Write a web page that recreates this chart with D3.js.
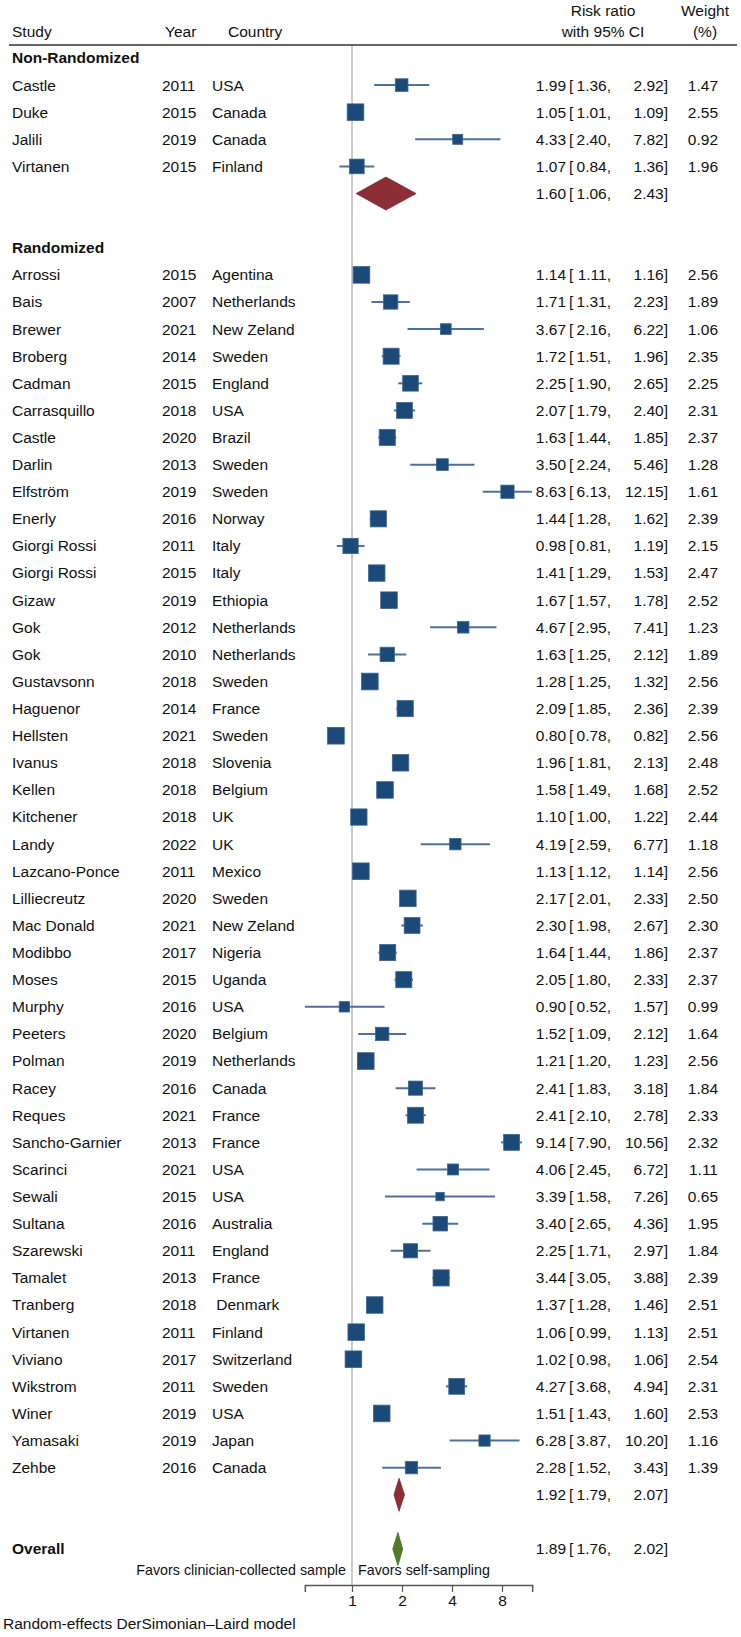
<!DOCTYPE html>
<html>
<head>
<meta charset="utf-8">
<script src="https://cdn.jsdelivr.net/npm/d3@7"></script>
<style>
  body { margin: 0; background: #fff; }
  svg text { font-family: "Liberation Sans", Arial, sans-serif; font-size: 15.5px; fill: #111; }
</style>
</head>
<body>
<svg width="741" height="1637"></svg>
<script>
// forest plot: self-sampling vs clinician-collected, risk ratio on log2 scale

const groups = ["Non-Randomized", "Randomized"];
const groupSize = [4, 45];

const studies = ["Castle", "Duke", "Jalili", "Virtanen",
  "Arrossi", "Bais", "Brewer", "Broberg", "Cadman", "Carrasquillo", "Castle", "Darlin", "Elfström",
  "Enerly", "Giorgi Rossi", "Giorgi Rossi", "Gizaw", "Gok", "Gok", "Gustavsonn", "Haguenor", "Hellsten",
  "Ivanus", "Kellen", "Kitchener", "Landy", "Lazcano-Ponce", "Lilliecreutz", "Mac Donald", "Modibbo",
  "Moses", "Murphy", "Peeters", "Polman", "Racey", "Reques", "Sancho-Garnier", "Scarinci", "Sewali",
  "Sultana", "Szarewski", "Tamalet", "Tranberg", "Virtanen", "Viviano", "Wikstrom", "Winer",
  "Yamasaki", "Zehbe"];
const years = [2011, 2015, 2019, 2015,
  2015, 2007, 2021, 2014, 2015, 2018, 2020, 2013, 2019, 2016, 2011, 2015, 2019, 2012, 2010, 2018,
  2014, 2021, 2018, 2018, 2018, 2022, 2011, 2020, 2021, 2017, 2015, 2016, 2020, 2019, 2016, 2021,
  2013, 2021, 2015, 2016, 2011, 2013, 2018, 2011, 2017, 2011, 2019, 2019, 2016];
const countries = ["USA", "Canada", "Canada", "Finland",
  "Agentina", "Netherlands", "New Zeland", "Sweden", "England", "USA", "Brazil", "Sweden", "Sweden",
  "Norway", "Italy", "Italy", "Ethiopia", "Netherlands", "Netherlands", "Sweden", "France", "Sweden",
  "Slovenia", "Belgium", "UK", "UK", "Mexico", "Sweden", "New Zeland", "Nigeria", "Uganda", "USA",
  "Belgium", "Netherlands", "Canada", "France", "France", "USA", "USA", "Australia", "England",
  "France", " Denmark", "Finland", "Switzerland", "Sweden", "USA", "Japan", "Canada"];
const rr = [1.99, 1.05, 4.33, 1.07,
  1.14, 1.71, 3.67, 1.72, 2.25, 2.07, 1.63, 3.50, 8.63, 1.44, 0.98, 1.41, 1.67, 4.67, 1.63, 1.28,
  2.09, 0.80, 1.96, 1.58, 1.10, 4.19, 1.13, 2.17, 2.30, 1.64, 2.05, 0.90, 1.52, 1.21, 2.41, 2.41,
  9.14, 4.06, 3.39, 3.40, 2.25, 3.44, 1.37, 1.06, 1.02, 4.27, 1.51, 6.28, 2.28];
const lower = [1.36, 1.01, 2.40, 0.84,
  1.11, 1.31, 2.16, 1.51, 1.90, 1.79, 1.44, 2.24, 6.13, 1.28, 0.81, 1.29, 1.57, 2.95, 1.25, 1.25,
  1.85, 0.78, 1.81, 1.49, 1.00, 2.59, 1.12, 2.01, 1.98, 1.44, 1.80, 0.52, 1.09, 1.20, 1.83, 2.10,
  7.90, 2.45, 1.58, 2.65, 1.71, 3.05, 1.28, 0.99, 0.98, 3.68, 1.43, 3.87, 1.52];
const upper = [2.92, 1.09, 7.82, 1.36,
  1.16, 2.23, 6.22, 1.96, 2.65, 2.40, 1.85, 5.46, 12.15, 1.62, 1.19, 1.53, 1.78, 7.41, 2.12, 1.32,
  2.36, 0.82, 2.13, 1.68, 1.22, 6.77, 1.14, 2.33, 2.67, 1.86, 2.33, 1.57, 2.12, 1.23, 3.18, 2.78,
  10.56, 6.72, 7.26, 4.36, 2.97, 3.88, 1.46, 1.13, 1.06, 4.94, 1.60, 10.20, 3.43];
const weights = [1.47, 2.55, 0.92, 1.96,
  2.56, 1.89, 1.06, 2.35, 2.25, 2.31, 2.37, 1.28, 1.61, 2.39, 2.15, 2.47, 2.52, 1.23, 1.89, 2.56,
  2.39, 2.56, 2.48, 2.52, 2.44, 1.18, 2.56, 2.50, 2.30, 2.37, 2.37, 0.99, 1.64, 2.56, 1.84, 2.33,
  2.32, 1.11, 0.65, 1.95, 1.84, 2.39, 2.51, 2.51, 2.54, 2.31, 2.53, 1.16, 1.39];

const pooledRR = [1.60, 1.92];
const pooledLo = [1.06, 1.79];
const pooledHi = [2.43, 2.07];
const overall = { rr: 1.89, lo: 1.76, hi: 2.02 };

const tickVals = [1, 2, 4, 8];

// build the rows
let rows = [];
let k = 0;
groups.forEach((g, gi) => {
  rows.push({ type: "group", label: g });
  for (let j = 0; j < groupSize[gi]; j++, k++) {
    rows.push({ type: "study", name: studies[k], year: years[k], country: countries[k],
      rr: rr[k], lo: lower[k], hi: upper[k], w: weights[k] });
  }
  rows.push({ type: "pooled", rr: pooledRR[gi], lo: pooledLo[gi], hi: pooledHi[gi], color: "#8b2e36" });
  rows.push({ type: "blank" });
});
rows.push({ type: "overall", label: "Overall", rr: overall.rr, lo: overall.lo, hi: overall.hi, color: "#527a2a" });
rows.forEach((r, i) => r.i = i);

const svg = d3.select("svg");
const f2 = d3.format(".2f");

const y = d3.scaleLinear().domain([0, rows.length - 1]).range([58, 1549]);
const x = d3.scaleLog().base(2).domain([1, 8]).range([352, 502]);
const side = d3.scaleSqrt().domain([0, 2.56]).range([0, 16.7]);

const axisTop = 45, axisY = 1585;

// header
const head = svg.append("g");
head.append("text").attr("x", 12).attr("y", 32).attr("dy", "0.35em").text("Study");
head.append("text").attr("x", 165).attr("y", 32).attr("dy", "0.35em").text("Year");
head.append("text").attr("x", 228).attr("y", 32).attr("dy", "0.35em").text("Country");
head.append("text").attr("x", 603).attr("y", 11).attr("dy", "0.35em").attr("text-anchor", "middle").text("Risk ratio");
head.append("text").attr("x", 603).attr("y", 32).attr("dy", "0.35em").attr("text-anchor", "middle").text("with 95% CI");
head.append("text").attr("x", 705).attr("y", 11).attr("dy", "0.35em").attr("text-anchor", "middle").text("Weight");
head.append("text").attr("x", 705).attr("y", 32).attr("dy", "0.35em").attr("text-anchor", "middle").text("(%)");
svg.append("line").attr("x1", 9).attr("x2", 737).attr("y1", axisTop).attr("y2", axisTop)
  .attr("stroke", "#333").attr("stroke-width", 1.5);

// null line
svg.append("line").attr("x1", x(1)).attr("x2", x(1)).attr("y1", axisTop + 1).attr("y2", axisY)
  .attr("stroke", "#b8b8b8").attr("stroke-width", 1.5);

// left labels
svg.selectAll("text.lab").data(rows.filter(r => r.type == "group" || r.type == "overall")).enter()
  .append("text").attr("class", "lab")
  .attr("x", 12).attr("y", d => y(d.i)).attr("dy", "0.35em")
  .style("font-weight", "bold").text(d => d.label);

const st = rows.filter(r => r.type == "study");
svg.selectAll("text.name").data(st).enter().append("text").attr("class", "name")
  .attr("x", 12).attr("y", d => y(d.i)).attr("dy", "0.35em").text(d => d.name);
svg.selectAll("text.year").data(st).enter().append("text").attr("class", "year")
  .attr("x", 162).attr("y", d => y(d.i)).attr("dy", "0.35em").text(d => d.year);
svg.selectAll("text.country").data(st).enter().append("text").attr("class", "country")
  .attr("x", 212).attr("y", d => y(d.i)).attr("dy", "0.35em")
  .attr("xml:space", "preserve").style("white-space", "pre").text(d => d.country);

// CI lines + squares
svg.selectAll("line.ci").data(st).enter().append("line").attr("class", "ci")
  .attr("x1", d => x(d.lo)).attr("x2", d => x(d.hi))
  .attr("y1", d => y(d.i)).attr("y2", d => y(d.i))
  .attr("stroke", "#4d7199").attr("stroke-width", 2);
svg.selectAll("rect.box").data(st).enter().append("rect").attr("class", "box")
  .attr("x", d => x(d.rr) - side(d.w) / 2).attr("y", d => y(d.i) - side(d.w) / 2)
  .attr("width", d => side(d.w)).attr("height", d => side(d.w))
  .attr("fill", "#1b4a78").attr("stroke", "#3e6690").attr("stroke-width", 0.8);

// diamonds
const dm = rows.filter(r => r.type == "pooled" || r.type == "overall");
svg.selectAll("path.dia").data(dm).enter().append("path").attr("class", "dia")
  .attr("d", d => {
    let cy = y(d.i), h = 16.5;
    return `M${x(d.lo)},${cy}L${x(d.rr)},${cy - h}L${x(d.hi)},${cy}L${x(d.rr)},${cy + h}Z`;
  })
  .attr("fill", d => d.color).attr("stroke", d => d3.color(d.color).darker(0.3)).attr("stroke-width", 0.8);

// right columns
const est = rows.filter(r => r.rr != null);
svg.selectAll("text.rr").data(est).enter().append("text").attr("class", "rr")
  .attr("x", 566).attr("y", d => y(d.i)).attr("dy", "0.35em").attr("text-anchor", "end")
  .text(d => f2(d.rr));
svg.selectAll("text.br").data(est).enter().append("text").attr("class", "br")
  .attr("x", 569).attr("y", d => y(d.i)).attr("dy", "0.35em").text("[");
svg.selectAll("text.lo").data(est).enter().append("text").attr("class", "lo")
  .attr("x", 611).attr("y", d => y(d.i)).attr("dy", "0.35em").attr("text-anchor", "end")
  .text(d => f2(d.lo) + ",");
svg.selectAll("text.hi").data(est).enter().append("text").attr("class", "hi")
  .attr("x", 668).attr("y", d => y(d.i)).attr("dy", "0.35em").attr("text-anchor", "end")
  .text(d => f2(d.hi) + "]");
svg.selectAll("text.w").data(st).enter().append("text").attr("class", "w")
  .attr("x", 718).attr("y", d => y(d.i)).attr("dy", "0.35em").attr("text-anchor", "end")
  .text(d => f2(d.w));

// x axis, drawn over the full CI range
const ext = d3.extent(lower.concat(upper));
const xa = x.copy().domain(ext).range(ext.map(x));
const ax = svg.append("g").attr("transform", `translate(0,${axisY})`)
  .call(d3.axisBottom(xa).tickValues(tickVals).tickFormat(d3.format("d")).tickSizeOuter(0).tickSize(7).tickPadding(3));
ax.select(".domain").attr("stroke", "#555").attr("stroke-width", 1.5);
ax.selectAll(".tick line").attr("stroke", "#555").attr("stroke-width", 1.2);
ax.selectAll(".tick text").style("font-size", "15.5px").attr("fill", "#111")
  .style("font-family", "'Liberation Sans', Arial, sans-serif");

svg.append("text").attr("x", x(1) - 6).attr("y", 1570).attr("dy", "0.35em").attr("text-anchor", "end")
  .style("font-size", "14.3px").text("Favors clinician-collected sample");
svg.append("text").attr("x", x(1) + 6).attr("y", 1570).attr("dy", "0.35em")
  .style("font-size", "14.3px").text("Favors self-sampling");

svg.append("text").attr("x", 3).attr("y", 1624).attr("dy", "0.35em").text("Random-effects DerSimonian–Laird model");
</script>
</body>
</html>
